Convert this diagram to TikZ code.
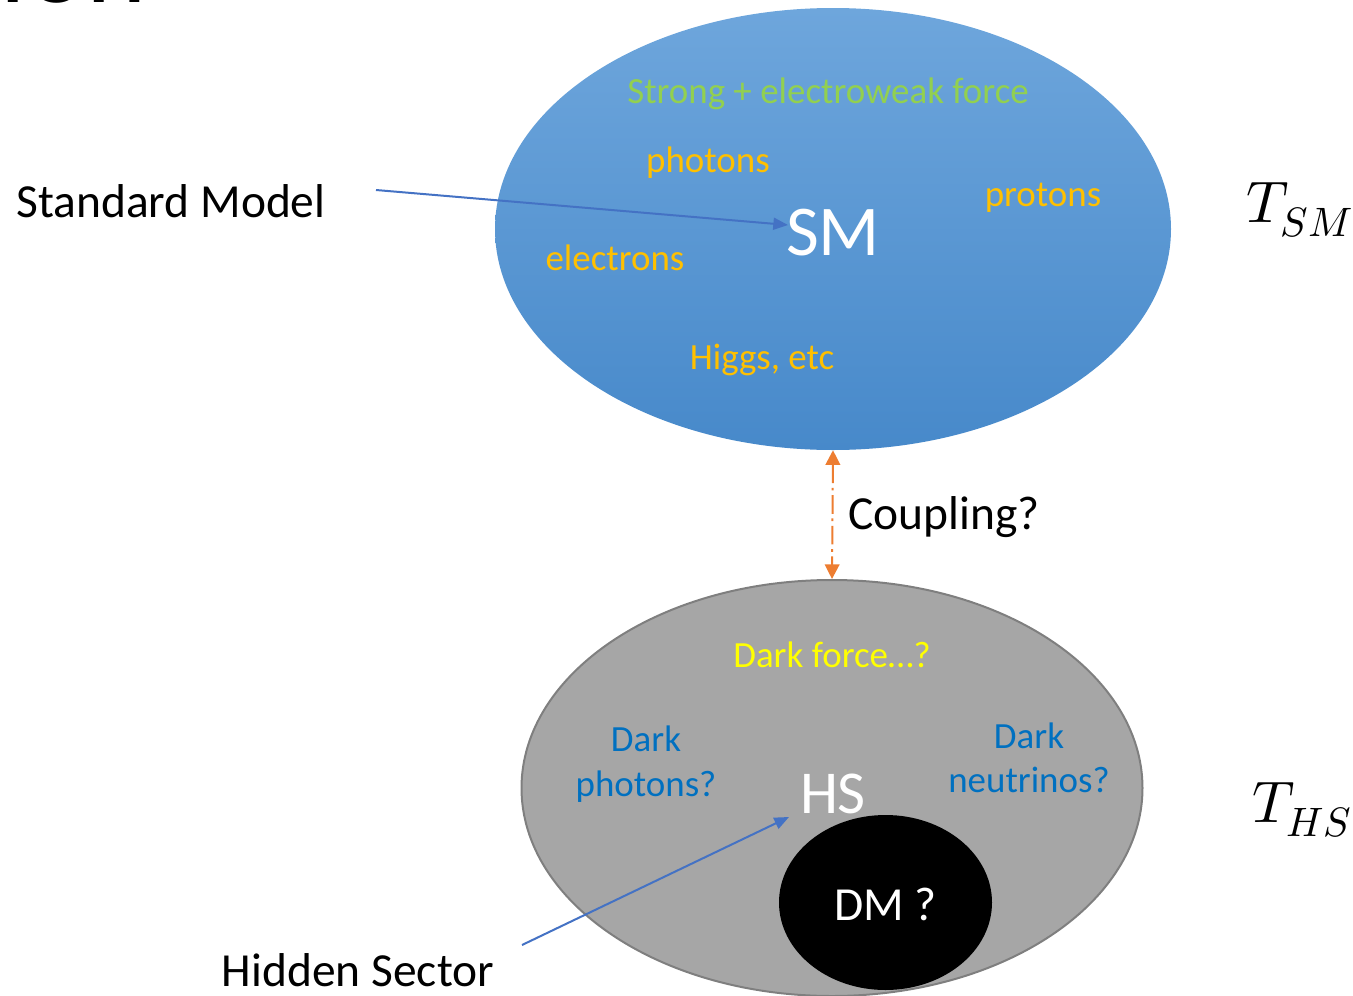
\documentclass[tikz,border=0pt]{standalone}
\usepackage{fontspec}
\usepackage{unicode-math}
\setmainfont{Carlito}
\setmathfont{Latin Modern Math}
\usetikzlibrary{arrows.meta,shapes.geometric}

\definecolor{smtop}{HTML}{6EA6DC}
\definecolor{smbot}{HTML}{4789CA}
\definecolor{hsfill}{HTML}{A6A6A6}
\definecolor{hsline}{HTML}{7F7F7F}
\definecolor{forcegreen}{HTML}{92D050}
\definecolor{partorange}{HTML}{FFC000}
\definecolor{darkyellow}{HTML}{FFFF00}
\definecolor{darkblue}{HTML}{0070C0}
\definecolor{pointer}{HTML}{4472C4}
\definecolor{couple}{HTML}{ED7D31}

\tikzset{
  small/.style={font=\fontsize{27.7}{33}\selectfont, inner sep=0pt, anchor=base},
  big/.style={font=\fontsize{35.6}{42}\selectfont, inner sep=0pt, anchor=base},
  temp/.style={font=\fontsize{44}{50}\selectfont, inner sep=0pt, anchor=base},
  pointerarrow/.style={draw=pointer, line width=1.5pt, -{Triangle[length=11pt,width=9pt]}},
  couplearrow/.style={draw=couple, line width=1.5pt, dash pattern=on 14pt off 3.5pt on 2pt off 3.5pt,
    {Triangle[length=11pt,width=11pt]}-{Triangle[length=11pt,width=11pt]}},
}

\begin{document}
\begin{tikzpicture}[x=0.75pt,y=-0.75pt]
\useasboundingbox (0,0) rectangle (1353,996);
\clip (0,0) rectangle (1353,996);

% remnant of the slide title, cut by the top edge
\node[font=\fontsize{86}{90}\selectfont, inner sep=0pt, anchor=base west] (title) at (-38,2) {tion};

% Standard Model sector
\node[ellipse, inner sep=0pt, minimum width=507pt, minimum height=331.5pt,
      top color=smtop, bottom color=smbot] (sm) at (833,229) {};
\node[small, text=forcegreen] (force) at (828,103) {Strong + electroweak force};
\node[small, text=partorange] (photons) at (708,172) {photons};
\node[small, text=partorange] (protons) at (1043,206) {protons};
\node[small, text=partorange] (electrons) at (615,270) {electrons};
\node[small, text=partorange] (higgs) at (762,369) {Higgs, etc};
\node[font=\fontsize{53.6}{60}\selectfont, inner sep=0pt, anchor=base, text=white] (smtxt) at (833,255) {SM};

% Hidden sector
\node[ellipse, inner sep=0pt, minimum width=465.75pt, minimum height=312pt,
      fill=hsfill, draw=hsline, line width=1.5pt] (hs) at (832,788) {};
\node[small, text=darkyellow] (darkforce) at (832,667) {Dark force\ldots?};
\node[small, text=darkblue] (dph1) at (646,751) {Dark};
\node[small, text=darkblue] (dph2) at (646,796) {photons?};
\node[small, text=darkblue] (dnu1) at (1029,748) {Dark};
\node[small, text=darkblue] (dnu2) at (1029,792) {neutrinos?};
\node[font=\fontsize{45.7}{52}\selectfont, inner sep=0pt, anchor=base, text=white] (hstxt) at (833,813) {HS};
\node[ellipse, inner sep=0pt, minimum width=159.75pt, minimum height=131.25pt, fill=black] (dm) at (885.5,902.5) {};
\node[big, text=white] (dmtxt) at (885.5,920) {DM ?};

% outside labels
\node[big] (smlabel) at (171,217) {Standard Model};
\node[big] (hslabel) at (358,986) {Hidden Sector};
\node[big] (coupling) at (944,529) {Coupling?};
\node[temp] (tsm) at (1300,222) {$T_{SM}$};
\node[temp] (ths) at (1302,822) {$T_{HS}$};

% connectors
\coordinate (smtail) at (376,190);
\coordinate (smhead) at (788,225);
\coordinate (hstail) at (522,945);
\coordinate (hshead) at (789,817);
\draw[pointerarrow] (smtail) -- (smhead);
\draw[pointerarrow] (hstail) -- (hshead);
\draw[couplearrow] (sm.south) -- (hs.north);
\end{tikzpicture}
\end{document}
